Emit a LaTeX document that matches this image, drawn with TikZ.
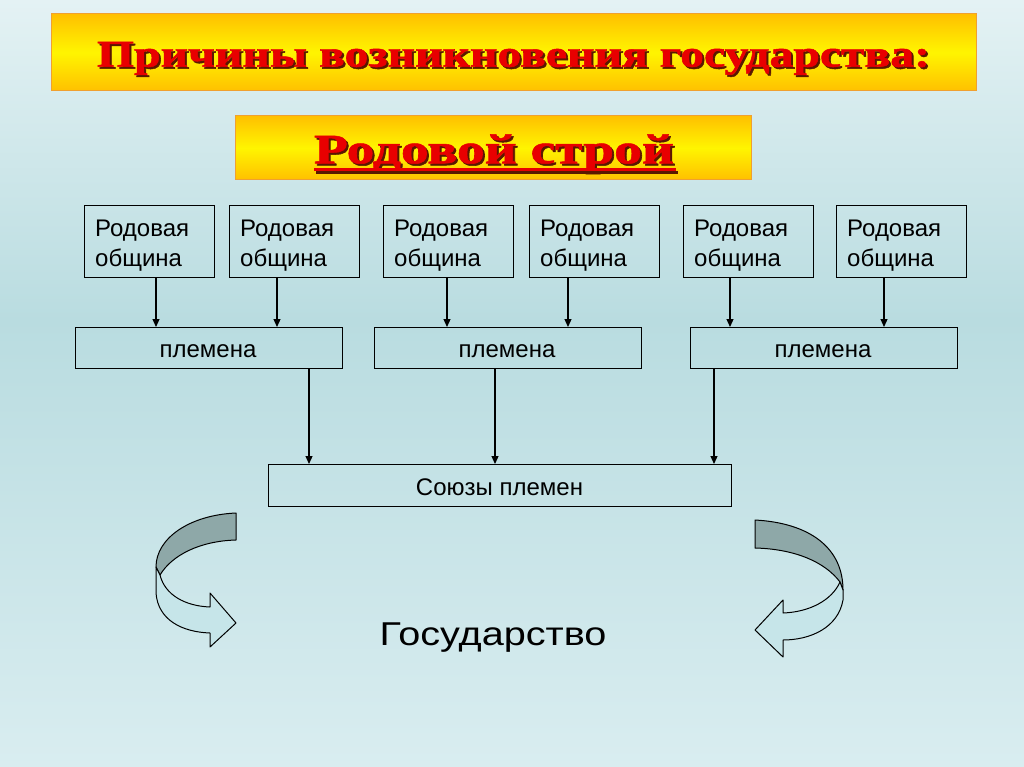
\documentclass[tikz,border=0pt]{standalone}
\usepackage{fontspec}
\setmainfont{Liberation Sans}
\newfontfamily\titleserif[FakeBold=1.2]{Liberation Serif Bold}
\usetikzlibrary{arrows.meta}
\definecolor{bgtop}{HTML}{E4F2F4}
\definecolor{bgmid}{HTML}{B9DCE0}
\definecolor{bgbot}{HTML}{D9EDF0}
\definecolor{ttlred}{HTML}{E80000}
\definecolor{ttlshadow}{HTML}{5A1800}
\definecolor{ribdark}{HTML}{8EA8A8}
\definecolor{riblight}{HTML}{C6E5E9}
\definecolor{orangeb}{HTML}{FFC000}
\definecolor{yel}{HTML}{FFF500}
\definecolor{orline}{HTML}{F0A030}
\tikzset{
  framebox/.style={draw=black, line width=1pt, inner sep=0pt},
  ttlbox/.style={draw=orline, line width=1pt, top color=orangeb, bottom color=orangeb, middle color=yel, inner sep=0pt},
  boxtext/.style={inner sep=0pt, font=\fontsize{24}{30}\selectfont, align=left, text=black},
  ctext/.style={inner sep=0pt, font=\fontsize{24}{30}\selectfont, text=black},
  conn/.style={line width=1.2pt, -{Triangle[length=8pt,width=7pt]}},
  ribbon/.style={draw=black, line width=1pt, line join=round}
}
\begin{document}
\begin{tikzpicture}[x=1pt,y=-1pt]
\useasboundingbox (0,0) rectangle (1024,767);
\shade[top color=bgtop, bottom color=bgmid] (0,0) rectangle (1024,320);
\shade[top color=bgmid, bottom color=bgbot] (0,319.5) rectangle (1024,767);

% title boxes
\node[ttlbox, minimum width=925, minimum height=77] (ttl) at (513.5,52.5) {};
\node[ttlbox, minimum width=516, minimum height=64] (sub) at (493,148) {};
\node[anchor=base, inner sep=0pt, text=ttlshadow, font=\titleserif\fontsize{38}{40}\selectfont] (ttlsh) at (515.5,68.7) {\resizebox{833pt}{\height}{Причины возникновения государства:}};
\node[anchor=base, inner sep=0pt, text=ttlred, font=\titleserif\fontsize{38}{40}\selectfont] (ttltxt) at (513.5,66.7) {\resizebox{833pt}{\height}{Причины возникновения государства:}};
\node[anchor=base, inner sep=0pt, text=ttlshadow, font=\titleserif\fontsize{42}{45}\selectfont] (subsh) at (496,165.3) {\resizebox{360pt}{\height}{Родовой строй}};
\node[anchor=base, inner sep=0pt, text=ttlred, font=\titleserif\fontsize{42}{45}\selectfont] (subtxt) at (494,163.3) {\resizebox{360pt}{\height}{Родовой строй}};
\draw[ttlshadow, line width=3pt] (316,172.5) -- (678,172.5);
\draw[ttlred, line width=3pt] (314,170) -- (676,170);

% community boxes
\foreach \n/\x in {1/84, 2/229, 3/383, 4/529, 5/683, 6/836} {
  \node[framebox, minimum width=130, minimum height=72, anchor=north west] (r\n) at (\x,205) {};
  \node[boxtext, anchor=north west] (rt\n) at (\x+11,219.5) {Родовая\\община};
}

% tribe boxes
\node[framebox, minimum width=267, minimum height=41, anchor=north west] (p1) at (75,327) {};
\node[framebox, minimum width=267, minimum height=41, anchor=north west] (p2) at (374,327) {};
\node[framebox, minimum width=267, minimum height=41, anchor=north west] (p3) at (690,327) {};
\node[ctext, anchor=base] (pt1) at (208,357) {племена};
\node[ctext, anchor=base] (pt2) at (507,357) {племена};
\node[ctext, anchor=base] (pt3) at (823,357) {племена};

% union box
\node[framebox, minimum width=463, minimum height=42, anchor=north west] (u) at (268,464) {};
\node[ctext, anchor=base] (ut) at (499.5,495) {Союзы племен};

% connectors
\draw[conn] (r1.south -| 156,0) -- (p1.north -| 156,0);
\draw[conn] (r2.south -| 277,0) -- (p1.north -| 277,0);
\draw[conn] (r3.south -| 447,0) -- (p2.north -| 447,0);
\draw[conn] (r4.south -| 568,0) -- (p2.north -| 568,0);
\draw[conn] (r5.south -| 730,0) -- (p3.north -| 730,0);
\draw[conn] (r6.south -| 884,0) -- (p3.north -| 884,0);
\draw[conn] (p1.south -| 309,0) -- (u.north -| 309,0);
\draw[conn] (p2.south -| 495,0) -- (u.north -| 495,0);
\draw[conn] (p3.south -| 714,0) -- (u.north -| 714,0);

% state
\node[inner sep=0pt, anchor=base, font=\fontsize{33}{36}\selectfont] (st) at (493,645) {\resizebox{227pt}{\height}{Государство}};

% left curved arrow
\filldraw[ribbon, fill=ribdark] (236,513) .. controls (190,515) and (156,538) .. (156,567) -- (160,575) .. controls (172,555) and (200,541) .. (236,540) -- cycle;
\filldraw[ribbon, fill=riblight] (160,575) -- (156,567) -- (156,593) .. controls (158,620) and (182,632) .. (210,633) -- (210,647) -- (236,623) -- (210,593) -- (210,607) .. controls (185,606) and (165,595) .. (160,575) -- cycle;

% right curved arrow
\filldraw[ribbon, fill=ribdark] (755,520) .. controls (810,523) and (843,548) .. (843,590) -- (840,582) .. controls (825,562) and (795,549) .. (755,548) -- cycle;
\filldraw[ribbon, fill=riblight] (840,582) -- (843,590) -- (843,600) .. controls (838,628) and (810,640) .. (783,640) -- (783,657) -- (755,630) -- (783,600) -- (783,613) .. controls (810,612) and (832,600) .. (840,582) -- cycle;
\end{tikzpicture}
\end{document}
